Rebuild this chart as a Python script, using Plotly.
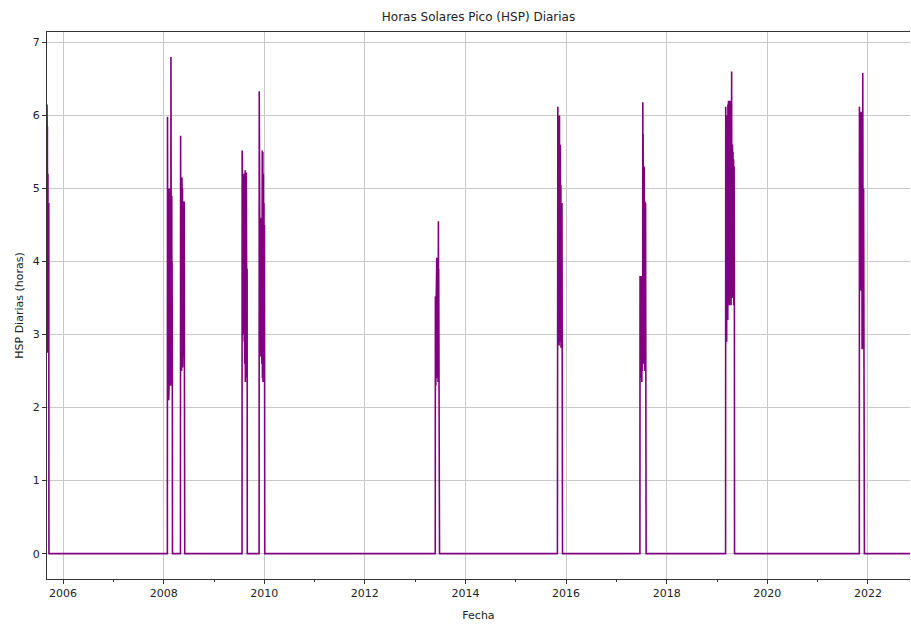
import pandas as pd
import plotly.graph_objects as go

# Burst start dates (daily data) and values
burst_starts = [
    "2005-09-06", "2008-01-29", "2008-05-03", "2009-07-24", "2009-11-25",
    "2013-05-27", "2015-10-31", "2017-06-21", "2019-03-05", "2021-10-31",
]
burst_1 = [6.15, 5.9, 3.2, 5.85, 2.75, 5.8, 4.1, 5.2, 3.0, 4.8, 2.8, 4.5, 3.6, 4.8]
burst_2 = [5.98, 3.1, 5.6, 2.2, 4.9, 3.4, 5.0, 2.6, 4.3, 2.1, 4.95, 3.8, 2.4, 4.6, 3.0,
           5.0, 2.3, 4.2, 3.5, 4.9, 2.6, 4.4, 3.2, 5.0, 2.8, 6.8, 3.6, 4.8, 2.3, 4.5,
           3.3, 4.9, 2.5, 4.0, 3.1, 2.3]
burst_3 = [5.72, 3.0, 5.1, 2.6, 4.7, 3.4, 5.0, 2.5, 4.4, 3.6, 5.15, 2.8, 4.6, 3.9, 5.0,
           2.55, 4.2, 3.1, 4.82, 2.9, 4.5, 3.6, 4.8, 2.7, 4.1, 3.3, 4.82, 2.6, 4.0, 2.5]
burst_4 = [5.52, 4.2, 5.3, 3.5, 4.9, 3.0, 5.1, 3.8, 4.5, 3.1, 5.0, 3.6, 4.7, 3.2, 5.2,
           2.9, 4.4, 3.5, 4.9, 2.6, 4.3, 3.3, 5.25, 2.35, 4.6, 3.4, 5.2, 2.8, 4.8, 3.6,
           5.22, 2.5, 4.1, 3.0, 4.0, 2.4, 3.9]
burst_5 = [6.33, 3.4, 4.6, 2.6, 4.3, 3.2, 4.55, 2.9, 4.1, 3.6, 4.6, 2.7, 4.4, 3.0, 4.5,
           2.8, 4.2, 3.3, 4.6, 2.6, 4.0, 3.5, 5.52, 2.4, 4.9, 3.1, 5.5, 2.35, 4.6, 3.4,
           5.2, 2.7, 4.3, 3.0, 4.8, 2.5, 4.1, 3.2, 4.5, 2.35]
burst_6 = [3.52, 2.6, 3.3, 2.3, 3.5, 2.9, 3.45, 2.5, 3.2, 2.8, 4.05, 2.4, 3.7, 3.0, 3.9,
           2.6, 3.5, 3.1, 4.0, 2.35, 3.6, 2.9, 4.55, 2.7, 3.9, 3.1, 3.85, 2.5, 3.6, 2.3]
burst_7 = [5.3, 3.2, 6.12, 3.6, 5.0, 2.9, 5.5, 3.3, 4.6, 3.9, 5.8, 2.85, 5.2, 3.5, 6.0,
           3.0, 5.4, 3.8, 4.9, 2.9, 5.6, 3.4, 5.0, 3.1, 5.05, 2.82, 4.7, 3.6, 5.05, 3.0,
           4.4, 2.9, 4.8, 3.2, 4.2, 2.85]
burst_8 = [3.8, 2.5, 3.6, 2.3, 3.75, 2.8, 3.5, 2.4, 3.8, 3.0, 3.4, 2.6, 3.7, 2.35, 3.6,
           2.9, 3.8, 2.5, 3.5, 2.7, 6.18, 3.1, 5.75, 2.8, 5.2, 3.3, 5.7, 2.6, 4.9, 3.4,
           5.3, 2.9, 4.8, 3.2, 4.6, 2.5, 4.82, 3.0, 4.3, 2.7, 4.8, 2.4, 4.0, 2.3]
burst_9 = [6.12, 2.85, 5.6, 3.4, 6.1, 3.8, 5.2, 2.9, 5.9, 4.1, 5.6, 3.5, 6.0, 3.9, 5.4,
           3.2, 6.15, 4.4, 5.8, 3.6, 6.2, 3.45, 5.7, 4.2, 6.05, 3.7, 5.9, 3.4, 6.2, 4.5,
           5.5, 3.9, 6.18, 3.5, 5.8, 4.6, 6.1, 3.8, 5.6, 3.4, 6.2, 4.3, 5.9, 6.6, 3.9,
           5.6, 4.1, 5.3, 3.5, 5.6, 4.4, 5.2, 3.9, 5.5, 3.6, 5.0, 4.2, 5.4, 3.4, 4.8,
           3.9, 5.3, 3.5, 3.4]
burst_10 = [6.12, 3.9, 5.8, 4.3, 6.0, 3.7, 5.6, 4.5, 5.9, 3.6, 5.7, 4.2, 6.05, 3.8, 5.5,
            4.0, 5.9, 3.6, 5.8, 2.8, 5.5, 3.7, 6.0, 3.3, 6.58, 3.6, 5.5, 2.8, 5.45, 3.6,
            5.0, 2.9, 4.8, 3.1, 4.5, 2.8]
bursts = [burst_1, burst_2, burst_3, burst_4, burst_5,
          burst_6, burst_7, burst_8, burst_9, burst_10]
series_end = "2022-11-10"
tick_years = ["2006", "2008", "2010", "2012", "2014", "2016", "2018", "2020", "2022"]

# Build the daily series: burst values, zero between bursts
xs, ys = [], []
for i, (start, vals) in enumerate(zip(burst_starts, bursts)):
    s = pd.Timestamp(start)
    if i > 0:
        xs.append(s - pd.Timedelta(days=1)); ys.append(0.0)
    dates = pd.date_range(s, periods=len(vals), freq="D")
    xs.extend(dates); ys.extend(vals)
    xs.append(dates[-1] + pd.Timedelta(days=1)); ys.append(0.0)
xs.append(pd.Timestamp(series_end)); ys.append(0.0)

fig = go.Figure()
fig.add_trace(go.Scatter(x=xs, y=ys, mode="lines",
                         line=dict(color="#800080", width=1.6),
                         hoverinfo="skip", showlegend=False))

font = "DejaVu Sans, Liberation Sans, sans-serif"
fig.update_layout(
    width=911, height=624,
    margin=dict(l=47, r=1, t=32, b=45, autoexpand=False),
    paper_bgcolor="white", plot_bgcolor="white",
    font=dict(family=font, size=11, color="#222"),
    title=dict(text="Horas Solares Pico (HSP) Diarias", x=0.5, xref="paper",
               y=1 - 17 / 624, yref="container", yanchor="middle",
               font=dict(size=12, color="#222")),
    xaxis=dict(
        type="date",
        range=["2005-09-06", "2022-11-02"],
        tickvals=[y + "-01-01" for y in tick_years],
        ticktext=tick_years,
        showgrid=True, gridcolor="#c9c9c9", gridwidth=1,
        showline=True, linecolor="#333", linewidth=1.2, mirror=True,
        ticks="outside", ticklen=4, tickcolor="#333",
        minor=dict(tickvals=[str(y) + "-01-01" for y in range(2005, 2024, 2)],
                   ticks="outside", ticklen=2, tickcolor="#333", showgrid=False),
        zeroline=False, automargin=False,
        title=dict(text="Fecha", standoff=12, font=dict(size=11)),
    ),
    yaxis=dict(
        range=[-0.347, 7.142],
        tickvals=[0, 1, 2, 3, 4, 5, 6, 7],
        showgrid=True, gridcolor="#c9c9c9", gridwidth=1,
        showline=True, linecolor="#333", linewidth=1.2,
        ticks="outside", ticklen=4, tickcolor="#333",
        zeroline=False, automargin=False,
        title=dict(text="HSP Diarias (horas)", standoff=6, font=dict(size=11)),
    ),
)

fig.write_html("out.html", config={"displayModeBar": False},
               post_script="document.body.style.margin='0';document.body.style.overflow='hidden';")
